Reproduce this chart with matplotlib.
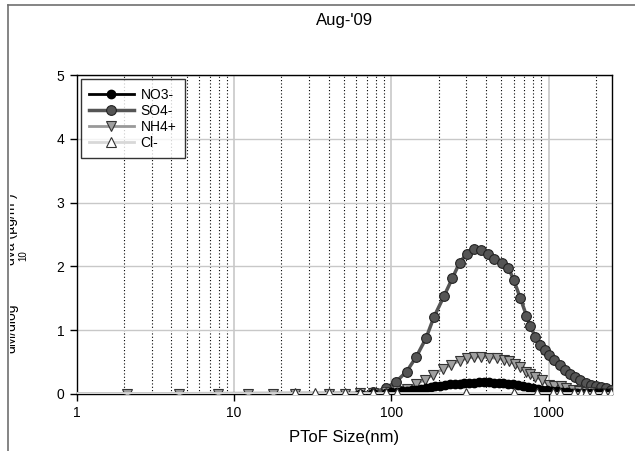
import numpy as np
import matplotlib
matplotlib.use("Agg")
import matplotlib.pyplot as plt
from matplotlib.lines import Line2D
from matplotlib.transforms import Bbox, TransformedBbox
from matplotlib.ticker import LogLocator, NullFormatter, FixedLocator

plt.rcParams['font.family'] = ['Liberation Sans', 'DejaVu Sans']

# PToF size distributions, Aug-'09
no3_x = [0.8, 63, 77, 92, 100, 108, 117, 125, 135, 144, 155, 166, 178, 190, 205, 220, 236, 253,
         272, 292, 313, 337, 362, 388, 417, 448, 481, 517, 555, 596, 640, 688, 739, 793, 852,
         915, 983, 1056, 1134, 1218, 1308, 1405, 1509, 1621, 1741, 1870, 2008, 2157, 2317, 2480]
no3_y = [0, 0.0, 0.01, 0.02, 0.03, 0.03, 0.04, 0.05, 0.06, 0.07, 0.08, 0.10, 0.11, 0.12, 0.13,
         0.14, 0.15, 0.16, 0.16, 0.17, 0.18, 0.18, 0.19, 0.19, 0.19, 0.18, 0.18, 0.17, 0.16,
         0.15, 0.14, 0.13, 0.11, 0.10, 0.08, 0.07, 0.06, 0.05, 0.04, 0.03, 0.03, 0.02, 0.02,
         0.01, 0.01, 0.01, 0.01, 0.01, 0.01, 0.01]

so4_x = [0.8, 63, 77, 92, 107, 125, 144, 166, 187, 216, 245, 272, 302, 337, 373, 412, 452, 509,
         555, 600, 662, 723, 766, 822, 880, 945, 1011, 1090, 1180, 1275, 1374, 1480, 1595,
         1720, 1855, 1995, 2150, 2320, 2500]
so4_y = [0, 0.01, 0.03, 0.09, 0.19, 0.35, 0.58, 0.87, 1.21, 1.53, 1.82, 2.06, 2.20, 2.27, 2.26,
         2.19, 2.12, 2.06, 1.98, 1.79, 1.50, 1.23, 1.06, 0.90, 0.77, 0.69, 0.61, 0.54, 0.46,
         0.38, 0.31, 0.26, 0.22, 0.18, 0.14, 0.12, 0.11, 0.09, 0.06]

nh4_x = [0.8, 2.1, 4.5, 7.9, 12.3, 17.7, 24.4, 40, 50.6, 63, 77, 92, 108, 125, 144, 163, 184,
         212, 240, 272, 302, 337, 373, 421, 468, 521, 564, 610, 660, 718, 766, 825, 911, 1006,
         1090, 1200, 1300, 1420, 1570, 1720, 1900, 2100, 2480]
nh4_y = [0, 0, 0, 0, 0, 0, 0, 0, 0, 0.01, 0.01, 0.03, 0.05, 0.08, 0.16, 0.22, 0.30, 0.39, 0.46,
         0.52, 0.56, 0.58, 0.58, 0.57, 0.56, 0.54, 0.51, 0.47, 0.42, 0.35, 0.31, 0.27, 0.22,
         0.14, 0.12, 0.12, 0.09, 0.06, 0.04, 0.03, 0.03, 0.02, 0.02]

cl_x = [0.8, 24.4, 32.5, 40, 50.6, 63, 77, 92, 108, 300, 600, 840, 1060, 1190, 1450, 1600,
        1730, 1920, 2250, 2480]
cl_y = [0.02, 0.02, 0.02, 0.02, 0.02, 0.02, 0.02, 0.02, 0.02, 0.02, 0.02, 0.02, 0.02, 0.02,
        0.02, 0.02, 0.02, 0.02, 0.02, 0.02]

fig = plt.figure(figsize=(6.35, 4.51), dpi=100)
ax = fig.add_axes([0.1208, 0.1264, 0.8425, 0.7073])

ax.plot(no3_x, no3_y, color='black', lw=2, marker='o', ms=6, mfc='black', mec='black',
        label='NO3-', zorder=4)
ax.plot(so4_x, so4_y, color='#555555', lw=2.5, marker='o', ms=7, mfc='#555555', mec='#222222',
        mew=0.8, label='SO4-', zorder=3)
ax.plot(nh4_x, nh4_y, color='#999999', lw=2, marker='v', ms=7, mfc='#a0a0a0', mec='#333333',
        mew=0.8, label='NH4+', zorder=3.5)
ax.plot(cl_x, cl_y, color='#d8d8d8', lw=2, marker='^', ms=6.5, mfc='white', mec='#333333',
        mew=0.8, label='Cl-', zorder=4.5)

ax.set_xscale('log')
ax.set_xlim(1, 2520)
ax.set_ylim(0, 5)
ax.set_yticks([0, 1, 2, 3, 4, 5])
ax.xaxis.set_major_locator(FixedLocator([1, 10, 100, 1000]))
ax.set_xticklabels(['1', '10', '100', '1000'])
ax.xaxis.set_minor_locator(LogLocator(base=10, subs=np.arange(2, 10)))
ax.xaxis.set_minor_formatter(NullFormatter())
ax.tick_params(axis='x', which='minor', length=0)
ax.tick_params(axis='both', which='major', direction='out', length=5, width=1,
               labelsize=10, pad=4)

# grid
ax.grid(True, axis='y', color='#c8c8c8', lw=1, zorder=0)
ax.grid(True, axis='x', which='major', color='#c8c8c8', lw=1.2, zorder=0)
ax.grid(True, axis='x', which='minor', color='black', lw=0.8, ls=(0, (1, 2)), zorder=0)
ax.set_axisbelow(True)
for s in ax.spines.values():
    s.set_linewidth(1)

ax.set_xlabel('PToF Size(nm)', fontsize=12, labelpad=7)
ax.set_title("Aug-'09", fontsize=12, pad=36)

leg = ax.legend(loc='upper left', fontsize=10, frameon=True, fancybox=False, shadow=False,
                borderaxespad=0.3, handlelength=3.2, labelspacing=0.15, borderpad=0.6,
                handletextpad=0.5)
leg.get_frame().set_edgecolor('black')
leg.get_frame().set_linewidth(1)
leg.set_zorder(10)

# outer frame (cut at right and bottom)
fig.add_artist(Line2D([8 / 635, 8 / 635], [0, 1 - 5 / 451], transform=fig.transFigure,
                      color='#707070', lw=1.2))
fig.add_artist(Line2D([8 / 635, 1], [1 - 5 / 451, 1 - 5 / 451], transform=fig.transFigure,
                      color='#707070', lw=1.2))

# y label, clipped by the frame line
clip = TransformedBbox(Bbox([[9.5 / 635, 0], [1, 1]]), fig.transFigure)
parts = [("dM/dlog", 1 - 353 / 451), ("dva (µg/m³)", 1 - 265 / 451)]
for txt, yb in parts:
    t = fig.text(18 / 635, yb, txt, rotation=90, ha='right', va='bottom', fontsize=10)
    t.set_clip_box(clip)
    t.set_clip_on(True)
t = fig.text(28 / 635, 1 - 256 / 451, "10", rotation=90, ha='right', va='center', fontsize=7)
t.set_clip_box(clip)
t.set_clip_on(True)

fig.savefig('out.png', dpi=100)
